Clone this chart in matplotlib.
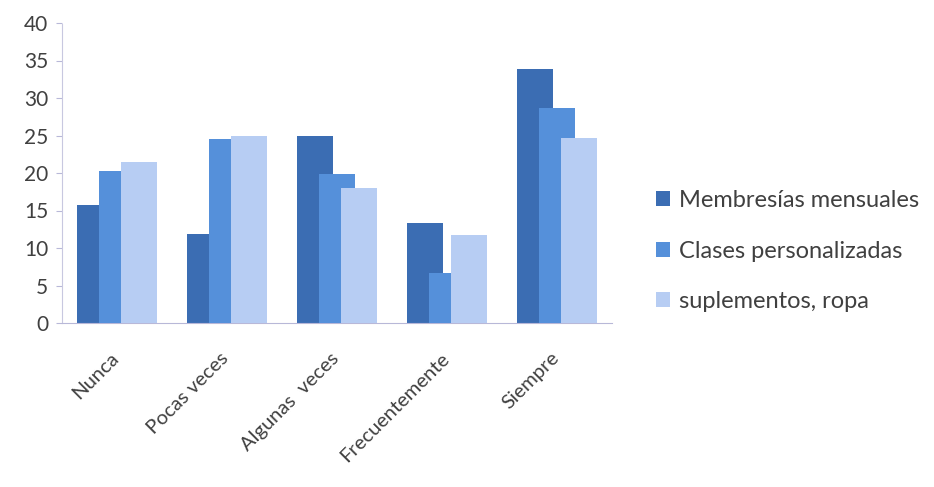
import numpy as np
import matplotlib
matplotlib.use("Agg")
import matplotlib.pyplot as plt
from matplotlib.transforms import ScaledTranslation

# Datos
categorias = ["Nunca", "Pocas veces", "Algunas  veces", "Frecuentemente", "Siempre"]
membresias = [15.8, 11.9, 25.0, 13.4, 33.9]
clases = [20.3, 24.6, 19.9, 6.7, 28.7]
suplementos = [21.5, 24.9, 18.0, 11.8, 24.7]

series = [
    ("Membresías mensuales", membresias, "#3B6DB3"),
    ("Clases personalizadas", clases, "#5590DA"),
    ("suplementos, ropa", suplementos, "#B7CDF3"),
]

plt.rcParams["font.family"] = ["Lato", "DejaVu Sans"]

fig = plt.figure(figsize=(9.34, 4.87), dpi=100)
ax = fig.add_axes([62 / 934, 164 / 487, 550 / 934, 300 / 487])

x = np.arange(len(categorias))
ancho = 0.336
paso = 0.2
for i, (nombre, valores, color) in enumerate(series):
    ax.bar(x + (i - 1) * paso, valores, width=ancho, color=color, label=nombre, zorder=2 + i)

ax.set_xlim(-0.5, len(categorias) - 0.5)
ax.set_ylim(0, 40)
ax.set_yticks(range(0, 41, 5))
ax.tick_params(axis="y", labelsize=15, labelcolor="#404040", color="#B8B8D8", length=4, pad=6)
ax.set_xticks(x)
ax.set_xticklabels(categorias, rotation=45, ha="right", rotation_mode="anchor",
                   fontsize=14.5, color="#404040")
ax.tick_params(axis="x", length=0, pad=19)
# leve corrección a la izquierda de las etiquetas giradas
desplaz = ScaledTranslation(-5 / 72, 0, fig.dpi_scale_trans)
for etiqueta in ax.get_xticklabels():
    etiqueta.set_transform(etiqueta.get_transform() + desplaz)

for s in ["top", "right"]:
    ax.spines[s].set_visible(False)
ax.spines["left"].set_color("#C8C8E0")
ax.spines["left"].set_linestyle((0, (2, 1)))
ax.spines["bottom"].set_color("#B8B8D8")

ley = ax.legend(loc="center left", bbox_to_anchor=(1.062, 0.24), borderaxespad=0,
                frameon=False, fontsize=17, handlelength=0.6, handleheight=0.6,
                handletextpad=0.4, labelspacing=1.25, labelcolor="#404040")

fig.savefig("out.png", dpi=100)
